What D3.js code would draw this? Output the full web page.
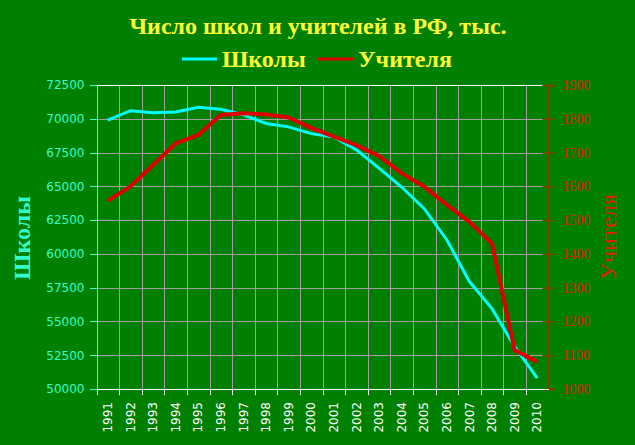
<!DOCTYPE html>
<html><head><meta charset="utf-8">
<script src="https://cdn.jsdelivr.net/npm/d3@7"></script>
<style>html,body{margin:0;padding:0;background:#008000;}svg{display:block;}</style>
</head><body>
<svg id="c" width="635" height="445"></svg>
<script>
const years = ["1991","1992","1993","1994","1995","1996","1997","1998","1999","2000","2001","2002","2003","2004","2005","2006","2007","2008","2009","2010"];
const schools = [69900,70600,70450,70500,70850,70700,70300,69650,69400,68900,68650,67700,66350,64950,63350,61050,57950,55950,53150,50800];
const teachers = [1557,1600,1663,1727,1752,1811,1816,1813,1804,1773,1747,1722,1690,1639,1599,1545,1495,1431,1115,1081];
const leftTicks = [50000,52500,55000,57500,60000,62500,65000,67500,70000,72500];
const rightTicks = [1000,1100,1200,1300,1400,1500,1600,1700,1800,1900];
const title = "Число школ и учителей в РФ, тыс.";
const seriesNames = ["Школы","Учителя"];

const svg = d3.select("#c");
const L = 96.5, R = 548.5, T = 85, B = 389;
const x = d3.scaleBand().domain(years).range([L, R]);
const yL = d3.scaleLinear().domain([50000,72500]).range([B, T]);
const yR = d3.scaleLinear().domain([1000,1900]).range([B, T]);

svg.append("rect").attr("width",635).attr("height",445).attr("fill","#008000");

// horizontal grid
svg.append("g").attr("shape-rendering","crispEdges").selectAll("line").data(leftTicks.slice(1,-1)).join("line")
  .attr("x1",L).attr("x2",R).attr("y1",d=>Math.round(yL(d))+0.5).attr("y2",d=>Math.round(yL(d))+0.5)
  .attr("stroke","#a0a0a0").attr("stroke-width",1);
// vertical grid at band boundaries
svg.append("g").attr("shape-rendering","crispEdges").selectAll("line").data(years.slice(1)).join("line")
  .attr("x1",d=>Math.round(x(d))+0.5).attr("x2",d=>Math.round(x(d))+0.5).attr("y1",T).attr("y2",B)
  .attr("stroke","#a0a0a0").attr("stroke-width",1);
// top border
svg.append("line").attr("shape-rendering","crispEdges").attr("x1",L).attr("x2",R-3).attr("y1",Math.round(T)+0.5).attr("y2",Math.round(T)+0.5)
  .attr("stroke","#ffffff").attr("stroke-width",1);

// left axis
const gL = svg.append("g").attr("transform",`translate(${L},0)`)
  .call(d3.axisLeft(yL).tickValues(leftTicks).tickSize(7).tickPadding(5).tickFormat(d3.format("d")));
gL.selectAll("path,line").attr("stroke","#33ffcc").attr("shape-rendering","crispEdges");
gL.selectAll("text").attr("fill","#33ffcc").attr("font-family","DejaVu Sans").attr("font-size","12px");

// right axis
const gR = svg.append("g").attr("transform",`translate(${R},0)`)
  .call(d3.axisRight(yR).tickValues(rightTicks).tickSize(6).tickPadding(8).tickFormat(d3.format("d")));
gR.select("path").attr("stroke","#804000").attr("stroke-width",2);
gR.selectAll(".tick line").attr("stroke","#804000").attr("x1",-6).attr("stroke-width",1.5);
gR.selectAll("text").attr("fill","#dd2200").attr("font-family","Liberation Serif").attr("font-size","14px");

// bottom axis
const gB = svg.append("g").attr("transform",`translate(0,${B})`)
  .call(d3.axisBottom(x).tickSize(0).tickPadding(0));
gB.select("path").attr("stroke","#ffffff").attr("shape-rendering","crispEdges");
gB.selectAll(".tick text").attr("fill","#ffffff").attr("font-family","DejaVu Sans").attr("font-size","12px")
  .attr("text-anchor","end").attr("dy","0.35em").attr("transform","translate(0,13) rotate(-90)").attr("x",0).attr("y",0);
svg.append("g").attr("shape-rendering","crispEdges").selectAll("line").data(years.concat(["end"])).join("line")
  .attr("x1",(d,i)=>Math.round(L+i*x.bandwidth())+0.5).attr("x2",(d,i)=>Math.round(L+i*x.bandwidth())+0.5)
  .attr("y1",B).attr("y2",B+6).attr("stroke",(d,i)=>i===20?"#804000":"#ffffff");

// lines
const cx = d=>x(d)+x.bandwidth()/2;
svg.append("path").datum(years.map((d,i)=>[cx(d),yL(schools[i])]))
  .attr("d",d3.line()).attr("fill","none").attr("stroke","#00ffff").attr("stroke-width",3);
svg.append("path").datum(years.map((d,i)=>[cx(d),yR(teachers[i])]))
  .attr("d",d3.line()).attr("fill","none").attr("stroke","#dd0000").attr("stroke-width",4);

// titles
svg.append("text").attr("x",318).attr("y",34).attr("text-anchor","middle")
  .attr("font-family","Liberation Serif").attr("font-weight","bold").attr("font-size","24px")
  .attr("fill","#ffff33").text(title);
// legend
const lg = svg.append("g");
lg.append("line").attr("x1",182).attr("x2",217).attr("y1",59).attr("y2",59).attr("stroke","#00ffff").attr("stroke-width",3);
lg.append("text").attr("x",222).attr("y",67).attr("font-family","Liberation Serif").attr("font-weight","bold")
  .attr("font-size","24px").attr("fill","#ffff33").text(seriesNames[0]);
lg.append("line").attr("x1",318).attr("x2",353).attr("y1",59).attr("y2",59).attr("stroke","#dd0000").attr("stroke-width",3);
lg.append("text").attr("x",358).attr("y",67).attr("font-family","Liberation Serif").attr("font-weight","bold")
  .attr("font-size","24px").attr("fill","#ffff33").text(seriesNames[1]);

// axis titles
svg.append("text").attr("transform","translate(30,238) rotate(-90)").attr("text-anchor","middle")
  .attr("font-family","Liberation Serif").attr("font-weight","bold").attr("font-size","24px")
  .attr("fill","#33ffcc").text(seriesNames[0]);
svg.append("text").attr("transform","translate(616,237) rotate(-90)").attr("text-anchor","middle")
  .attr("font-family","Liberation Serif").attr("font-size","24px")
  .attr("fill","#dd2200").text(seriesNames[1]);
</script>
</body></html>
